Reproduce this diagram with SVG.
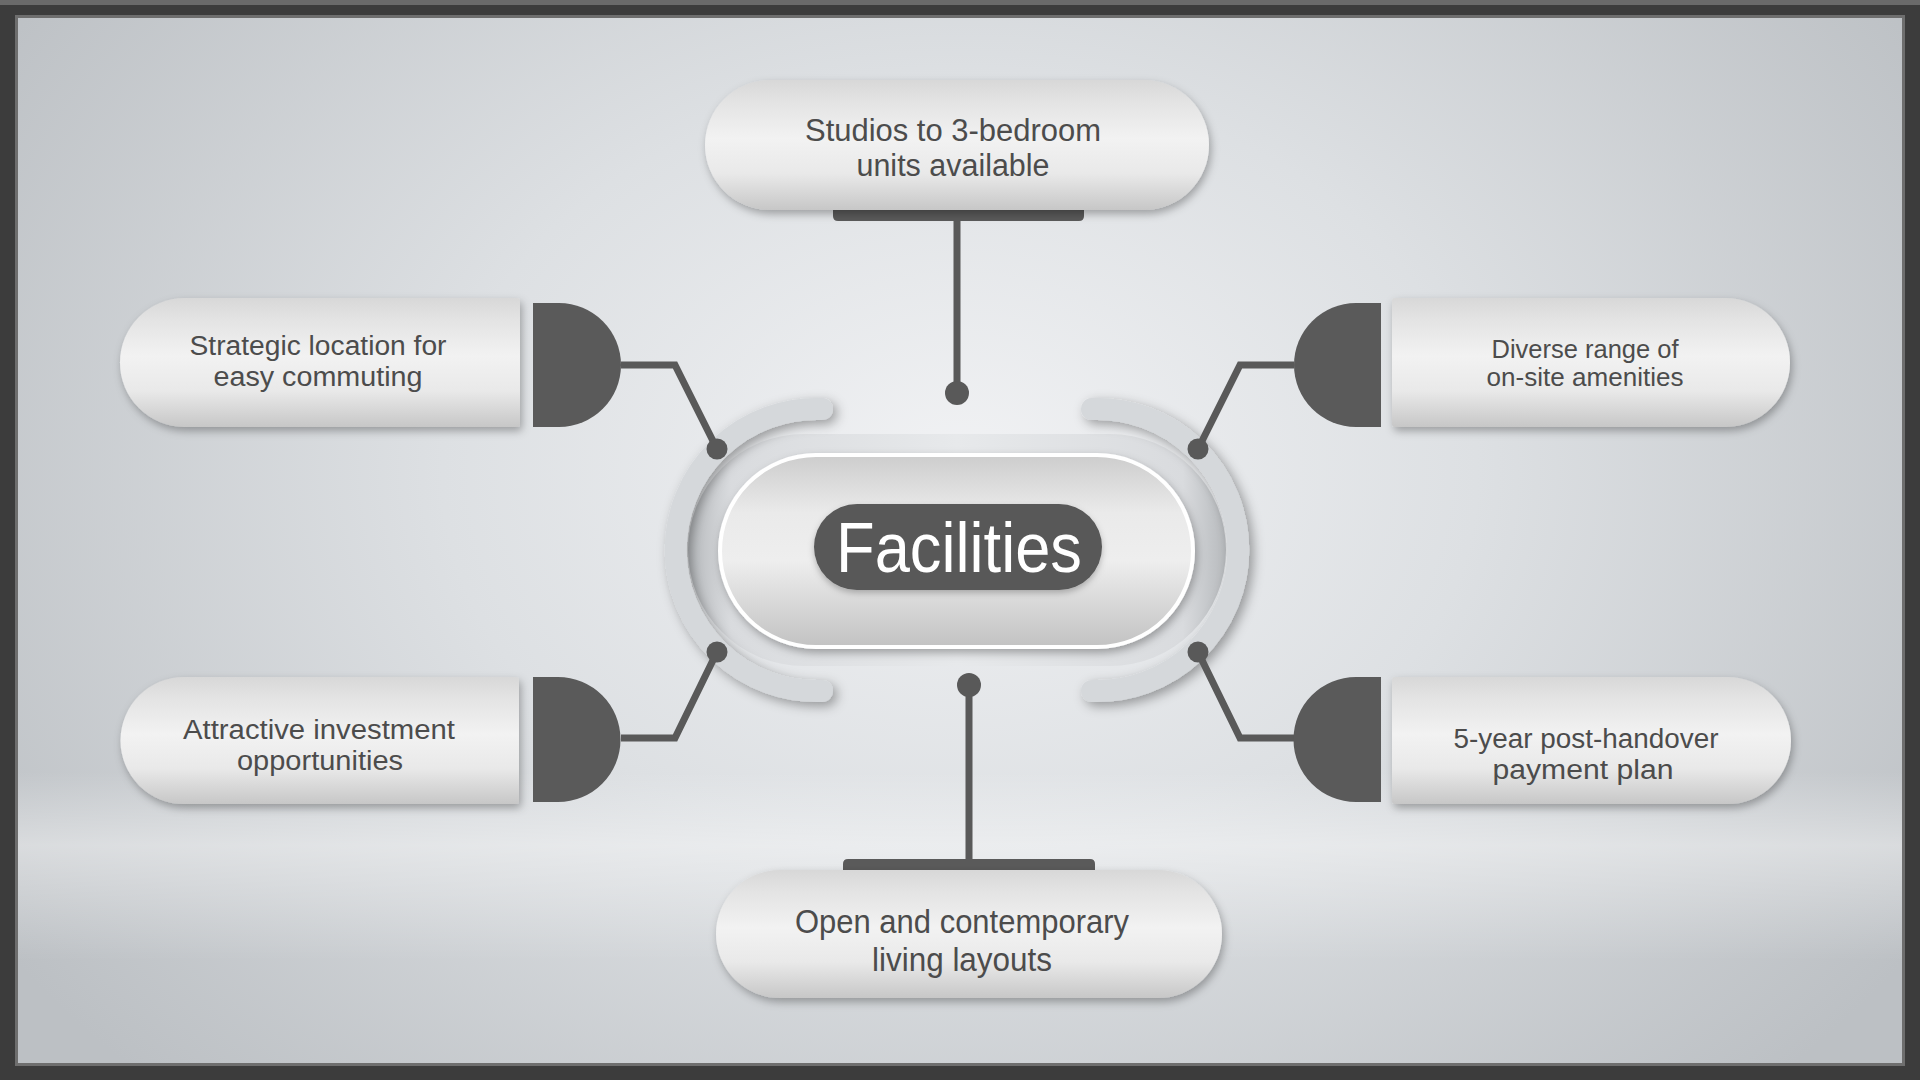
<svg xmlns="http://www.w3.org/2000/svg" width="1920" height="1080" viewBox="0 0 1920 1080">
<defs>
<radialGradient id="bgGrad" cx="960" cy="470" r="1150" gradientUnits="userSpaceOnUse" gradientTransform="translate(960 470) scale(1 0.75) translate(-960 -470)">
<stop offset="0" stop-color="#f1f2f4"/>
<stop offset="0.45" stop-color="#dde0e3"/>
<stop offset="1" stop-color="#bcc0c4"/>
</radialGradient>
<linearGradient id="floorGrad" x1="0" y1="0" x2="0" y2="1">
<stop offset="0" stop-color="#ffffff" stop-opacity="0"/>
<stop offset="0.72" stop-color="#ffffff" stop-opacity="0"/>
<stop offset="0.79" stop-color="#ffffff" stop-opacity="0.4"/>
<stop offset="0.9" stop-color="#ffffff" stop-opacity="0"/>
<stop offset="1" stop-color="#ffffff" stop-opacity="0"/>
</linearGradient>
<linearGradient id="pillGrad" x1="0" y1="0" x2="0" y2="1">
<stop offset="0" stop-color="#d8d8d8"/>
<stop offset="0.18" stop-color="#e4e4e4"/>
<stop offset="0.45" stop-color="#f2f2f2"/>
<stop offset="0.72" stop-color="#e9e9e9"/>
<stop offset="1" stop-color="#c7c7c7"/>
</linearGradient>
<linearGradient id="centerGrad" x1="0" y1="0" x2="0" y2="1">
<stop offset="0" stop-color="#cdcdcd"/>
<stop offset="0.3" stop-color="#eaeaea"/>
<stop offset="0.55" stop-color="#eeeeee"/>
<stop offset="1" stop-color="#c2c2c2"/>
</linearGradient>
<linearGradient id="ringGrad" x1="0" y1="0" x2="1" y2="0">
<stop offset="0" stop-color="#b7babd"/>
<stop offset="0.08" stop-color="#d9dbde"/>
<stop offset="0.5" stop-color="#e7e9eb"/>
<stop offset="0.92" stop-color="#d9dbde"/>
<stop offset="1" stop-color="#b7babd"/>
</linearGradient>
<filter id="sh" x="-20%" y="-30%" width="140%" height="170%">
<feDropShadow dx="2" dy="4" stdDeviation="4" flood-color="#000000" flood-opacity="0.3"/>
</filter>
<filter id="arcSh" x="-30%" y="-30%" width="160%" height="160%">
<feDropShadow dx="4" dy="4" stdDeviation="6" flood-color="#000000" flood-opacity="0.35"/>
</filter>
<filter id="soft" x="-10%" y="-20%" width="120%" height="150%">
<feDropShadow dx="0" dy="3" stdDeviation="3" flood-color="#000000" flood-opacity="0.25"/>
</filter>
</defs>
<style>
.txt { font-family: "Liberation Sans", Arial, sans-serif; fill: #4c4c4c; text-anchor: middle; }
.pill { fill: url(#pillGrad); filter: url(#sh); }
.cap { fill: #5a5a5a; }
.conn { stroke: #595959; stroke-width: 7; fill: none; stroke-linejoin: miter; }
.dot { fill: #595959; }
.arc { stroke: #d5d8db; stroke-width: 22; fill: none; stroke-linecap: round; filter: url(#arcSh); }
</style>

<g id="background">
<rect x="0" y="0" width="1920" height="1080" fill="#3c3c3c"/>
<rect x="0" y="0" width="1920" height="5" fill="#6a6a6a"/>
<rect x="15" y="15" width="1890" height="1051" fill="url(#bgGrad)"/>
<rect x="15" y="15" width="1890" height="1051" fill="url(#floorGrad)"/>
<rect x="16.5" y="16.5" width="1887" height="1048" fill="none" stroke="#6e6e6e" stroke-width="3"/>
</g>

<g id="center">
<rect x="688" y="434" width="538" height="232" rx="116" fill="url(#ringGrad)"/>
<path class="arc" d="M 822 409.1 A 141 141 0 1 0 822 690.9"/>
<path class="arc" d="M 1092 409.1 A 141 141 0 1 1 1092 690.9"/>
<rect x="720" y="455" width="473" height="192" rx="96" fill="url(#centerGrad)" stroke="#ffffff" stroke-width="4" filter="url(#sh)"/>
<rect x="814" y="504" width="288" height="86" rx="43" fill="#585858" filter="url(#soft)"/>
<text x="959" y="572" font-family="Liberation Sans, Arial, sans-serif" font-size="70" fill="#ffffff" text-anchor="middle" textLength="246" lengthAdjust="spacingAndGlyphs">Facilities</text>
</g>

<g id="connectors">
<path class="conn" d="M 957 215 V 393"/>
<circle class="dot" cx="957" cy="393" r="12"/>
<path class="conn" d="M 969 685 V 862"/>
<circle class="dot" cx="969" cy="685" r="12"/>
<path class="conn" d="M 621 365 H 675 L 717 449"/>
<circle class="dot" cx="717" cy="449" r="10.5"/>
<path class="conn" d="M 621 738 H 675 L 717 652"/>
<circle class="dot" cx="717" cy="652" r="10.5"/>
<path class="conn" d="M 1294 365 H 1240 L 1198 449"/>
<circle class="dot" cx="1198" cy="449" r="10.5"/>
<path class="conn" d="M 1294 738 H 1240 L 1198 652"/>
<circle class="dot" cx="1198" cy="652" r="10.5"/>
</g>

<g id="node-top">
<path class="cap" d="M 833 205 H 1084 V 216 Q 1084 221 1079 221 H 838 Q 833 221 833 216 Z"/>
<rect class="pill" x="705" y="80" width="504" height="130" rx="65"/>
<text class="txt" x="953" y="141" font-size="31" textLength="296" lengthAdjust="spacingAndGlyphs">Studios to 3-bedroom</text>
<text class="txt" x="953" y="176" font-size="31" textLength="193" lengthAdjust="spacingAndGlyphs">units available</text>
</g>

<g id="node-bottom">
<path class="cap" d="M 843 866 V 864 Q 843 859 848 859 H 1090 Q 1095 859 1095 864 V 876 H 843 Z"/>
<rect class="pill" x="716" y="870" width="506" height="128" rx="64"/>
<text class="txt" x="962" y="933" font-size="33" textLength="334" lengthAdjust="spacingAndGlyphs">Open and contemporary</text>
<text class="txt" x="962" y="971" font-size="33" textLength="180" lengthAdjust="spacingAndGlyphs">living layouts</text>
</g>

<g id="node-left-top">
<path class="pill" d="M 184.5 298 H 517 Q 520 298 520 301 V 424 Q 520 427 517 427 H 184.5 A 64.5 64.5 0 0 1 184.5 298 Z"/>
<path class="cap" d="M 533 303 H 559 A 62 62 0 0 1 559 427 H 533 Z"/>
<text class="txt" x="318" y="355" font-size="27" textLength="257" lengthAdjust="spacingAndGlyphs">Strategic location for</text>
<text class="txt" x="318" y="386" font-size="27" textLength="209" lengthAdjust="spacingAndGlyphs">easy commuting</text>
</g>

<g id="node-left-bottom">
<path class="pill" d="M 184 677 H 516 Q 519 677 519 680 V 801 Q 519 804 516 804 H 184 A 63.5 63.5 0 0 1 184 677 Z"/>
<path class="cap" d="M 533 677 H 558 A 62.5 62.5 0 0 1 558 802 H 533 Z"/>
<text class="txt" x="319" y="738.5" font-size="27" textLength="272" lengthAdjust="spacingAndGlyphs">Attractive investment</text>
<text class="txt" x="320" y="769.5" font-size="27" textLength="166" lengthAdjust="spacingAndGlyphs">opportunities</text>
</g>

<g id="node-right-top">
<path class="pill" d="M 1725.5 298 H 1395 Q 1392 298 1392 301 V 424 Q 1392 427 1395 427 H 1725.5 A 64.5 64.5 0 0 0 1725.5 298 Z"/>
<path class="cap" d="M 1381 303 H 1356 A 62 62 0 0 0 1356 427 H 1381 Z"/>
<text class="txt" x="1585" y="358" font-size="25" textLength="187" lengthAdjust="spacingAndGlyphs">Diverse range of</text>
<text class="txt" x="1585" y="386" font-size="25" textLength="197" lengthAdjust="spacingAndGlyphs">on-site amenities</text>
</g>

<g id="node-right-bottom">
<path class="pill" d="M 1727.5 677 H 1395 Q 1392 677 1392 680 V 801 Q 1392 804 1395 804 H 1727.5 A 63.5 63.5 0 0 0 1727.5 677 Z"/>
<path class="cap" d="M 1381 677 H 1356 A 62.5 62.5 0 0 0 1356 802 H 1381 Z"/>
<text class="txt" x="1586" y="747.5" font-size="27" textLength="265" lengthAdjust="spacingAndGlyphs">5-year post-handover</text>
<text class="txt" x="1583" y="778.5" font-size="27" textLength="181" lengthAdjust="spacingAndGlyphs">payment plan</text>
</g>
</svg>
